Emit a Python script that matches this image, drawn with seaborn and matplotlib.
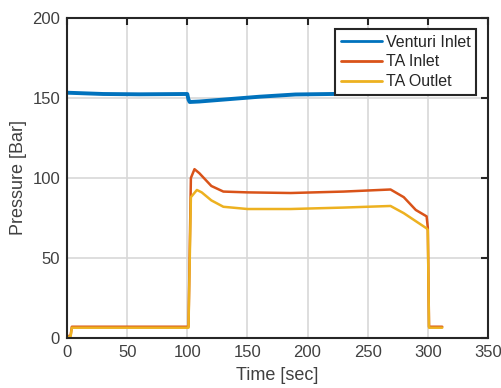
import pandas as pd
import numpy as np
import seaborn as sns
import matplotlib
matplotlib.use('Agg')
import matplotlib.pyplot as plt

# values (time in sec, pressure in bar)
venturi_t = [0, 30, 60, 100, 101, 102, 110, 130, 160, 190, 220, 250, 280, 310]
venturi_p = [153.3, 152.5, 152.3, 152.5, 149.0, 147.5, 147.8, 149.0, 150.8, 152.2, 152.5, 152.8, 153.0, 153.0]

inlet_t = [0, 3, 4, 101, 103, 106, 110, 120, 130, 150, 186, 230, 269, 280, 290, 299, 300, 301, 312]
inlet_p = [1.0, 1.5, 7.0, 7.0, 100.0, 105.5, 103.0, 95.0, 91.5, 91.0, 90.6, 91.5, 92.8, 88.0, 80.0, 76.0, 69.0, 7.0, 7.0]

outlet_t = [0, 3, 4, 101, 103, 108, 112, 120, 130, 150, 186, 230, 269, 280, 290, 299, 300, 301, 312]
outlet_p = [0.6, 1.0, 6.4, 6.4, 88.0, 92.5, 91.0, 86.0, 82.0, 80.6, 80.6, 81.5, 82.5, 78.0, 73.0, 68.5, 67.5, 6.4, 6.4]

series = ['Venturi Inlet', 'TA Inlet', 'TA Outlet']
colors = ['#0072BD', '#D95319', '#EDB120']

df = pd.concat([
    pd.DataFrame({'t': venturi_t, 'p': venturi_p, 'name': series[0]}),
    pd.DataFrame({'t': inlet_t, 'p': inlet_p, 'name': series[1]}),
    pd.DataFrame({'t': outlet_t, 'p': outlet_p, 'name': series[2]}),
])

sns.set_style('whitegrid')
plt.rcParams['font.family'] = ['Liberation Sans', 'DejaVu Sans']

fig = plt.figure(figsize=(5.02, 3.88), dpi=100)
ax = fig.add_axes([0.1335, 0.129, 0.8385, 0.8246])

sns.lineplot(data=df, x='t', y='p', hue='name', palette=dict(zip(series, colors)),
             hue_order=series, sort=False, estimator=None, ax=ax, linewidth=1.8)
ax.lines[0].set_linewidth(2.8)

ax.set_xlim(0, 350)
ax.set_ylim(0, 200)
ax.set_xticks(np.arange(0, 351, 50))
ax.set_yticks(np.arange(0, 201, 50))
ax.grid(True, color='#d8d8d8', linewidth=1.2)
for s in ax.spines.values():
    s.set_color('#262626')
    s.set_linewidth(1.5)
    s.set_visible(True)
ax.tick_params(direction='in', length=5, width=1.5, color='#262626',
               top=True, right=True, labelsize=12, labelcolor='#404040', pad=5)
ax.set_xlabel('Time [sec]', fontsize=13, color='#404040', labelpad=5)
ax.set_ylabel('Pressure [Bar]', fontsize=13, color='#404040', labelpad=4)

leg = ax.legend(loc='upper right', bbox_to_anchor=(0.9715, 0.9656), fancybox=False,
                edgecolor='#262626', framealpha=1, fontsize=11.5, handlelength=2.6,
                borderpad=0.35, labelspacing=0.3, handletextpad=0.2, borderaxespad=0)
leg.get_frame().set_linewidth(1.5)
for h in leg.get_lines():
    h.set_linewidth(2)

fig.savefig('out.png', dpi=100)
